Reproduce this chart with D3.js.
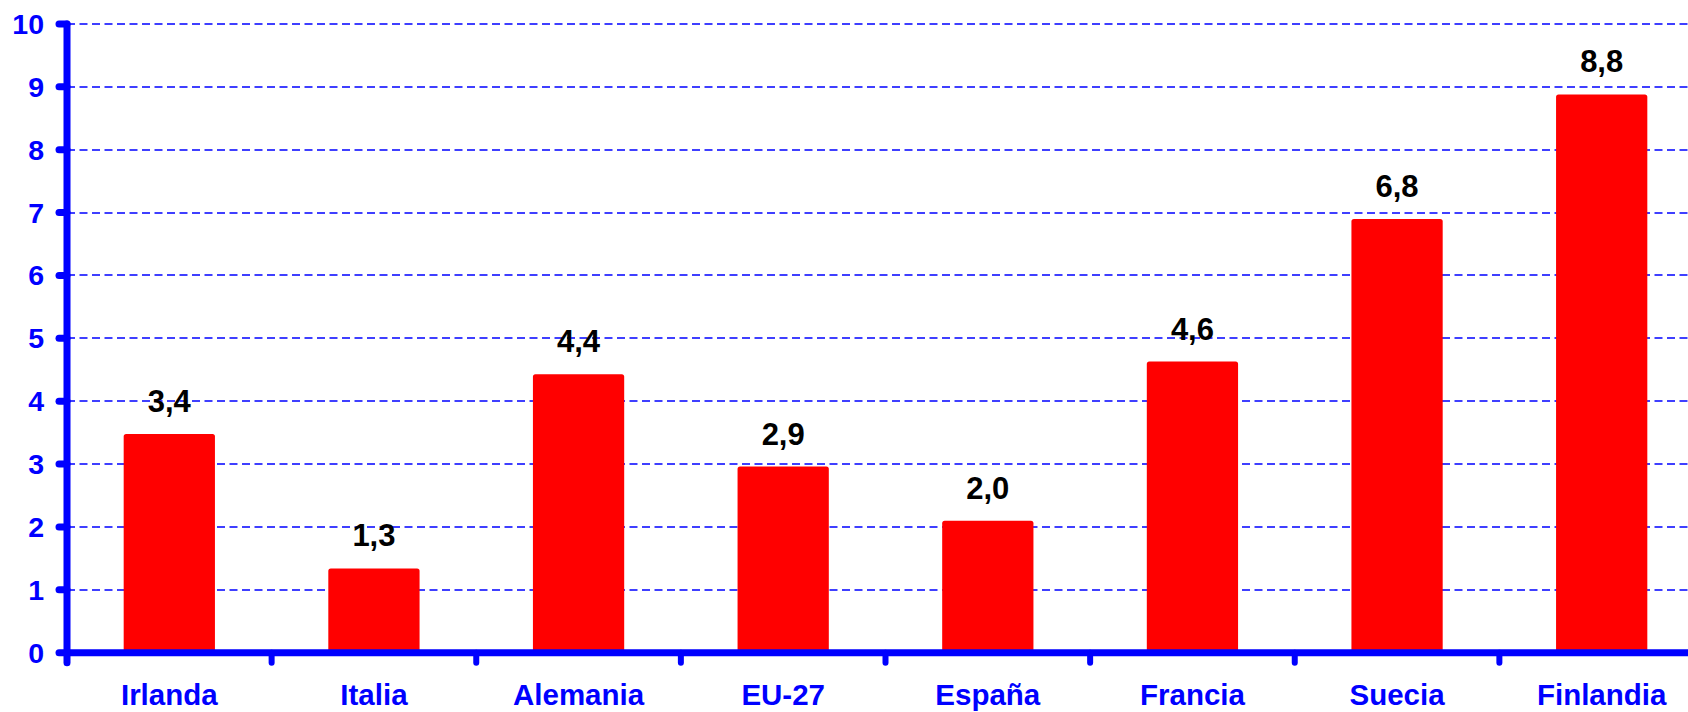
<!DOCTYPE html>
<html>
<head>
<meta charset="utf-8">
<script src="https://cdn.jsdelivr.net/npm/d3@7"></script>
<style>
    html, body { margin: 0; padding: 0; background: #fff; }
    svg { display: block; font-family: "Liberation Sans", Arial, sans-serif; font-weight: bold; }
</style>
</head>
<body>
<div id="chart"></div>
<script>
// countries, in the order shown
var categories = ["Irlanda", "Italia", "Alemania", "EU-27", "España", "Francia", "Suecia", "Finlandia"];
// bar heights as drawn
var values = [3.48, 1.34, 4.43, 2.96, 2.10, 4.63, 6.90, 8.88];
// value labels printed above the bars
var valueLabels = ["3,4", "1,3", "4,4", "2,9", "2,0", "4,6", "6,8", "8,8"];
var yTicks = [0, 1, 2, 3, 4, 5, 6, 7, 8, 9, 10];

var WIDTH = 1688, HEIGHT = 712;
var BLUE = "#0000ff";

var svg = d3.select("#chart").append("svg")
    .attr("width", WIDTH)
    .attr("height", HEIGHT);

var x = d3.scaleBand().domain(categories).range([67, 1704]);
var y = d3.scaleLinear().domain([0, 10]).range([652.7, 24]);
var barWidth = x.bandwidth() * 0.446;

// dashed gridlines
svg.append("g").selectAll("line")
    .data(yTicks.filter(function(t) { return t > 0; }))
    .enter().append("line")
    .attr("x1", x.range()[0])
    .attr("x2", WIDTH)
    .attr("y1", function(t) { return Math.round(y(t)); })
    .attr("y2", function(t) { return Math.round(y(t)); })
    .attr("stroke", BLUE)
    .attr("stroke-width", 1.6)
    .attr("stroke-dasharray", "8,4.5");

// bars
svg.append("g").selectAll("rect")
    .data(values)
    .enter().append("rect")
    .attr("x", function(d, i) { return x(categories[i]) + x.bandwidth() / 2 - barWidth / 2; })
    .attr("y", function(d) { return y(d); })
    .attr("width", barWidth)
    .attr("height", function(d) { return y(0) - y(d); })
    .attr("rx", 2.5)
    .attr("fill", "#ff0000");

// value labels
svg.append("g").selectAll("text")
    .data(valueLabels)
    .enter().append("text")
    .attr("x", function(d, i) { return x(categories[i]) + x.bandwidth() / 2; })
    .attr("y", function(d, i) { return y(values[i]) - 22; })
    .attr("text-anchor", "middle")
    .attr("font-size", 31)
    .attr("fill", "#000")
    .text(function(d) { return d; });

// y axis
var yAxis = svg.append("g");
yAxis.append("line")
    .attr("x1", x.range()[0]).attr("x2", x.range()[0])
    .attr("y1", y(10)).attr("y2", y(0) + 10)
    .attr("stroke", BLUE).attr("stroke-width", 7).attr("stroke-linecap", "round");
yAxis.selectAll("line.tick")
    .data(yTicks)
    .enter().append("line")
    .attr("class", "tick")
    .attr("x1", x.range()[0] - 8).attr("x2", x.range()[0])
    .attr("y1", function(t) { return y(t); })
    .attr("y2", function(t) { return y(t); })
    .attr("stroke", BLUE).attr("stroke-width", 7).attr("stroke-linecap", "round");
yAxis.selectAll("text")
    .data(yTicks)
    .enter().append("text")
    .attr("x", 44)
    .attr("y", function(t) { return y(t) + 10; })
    .attr("text-anchor", "end")
    .attr("font-size", 28.5)
    .attr("fill", BLUE)
    .text(function(t) { return t; });

// x axis
var xAxis = svg.append("g");
xAxis.append("line")
    .attr("x1", x.range()[0]).attr("x2", WIDTH + 10)
    .attr("y1", y(0)).attr("y2", y(0))
    .attr("stroke", BLUE).attr("stroke-width", 7);
xAxis.selectAll("line.tick")
    .data(categories.slice(1))
    .enter().append("line")
    .attr("class", "tick")
    .attr("x1", function(c) { return x(c); })
    .attr("x2", function(c) { return x(c); })
    .attr("y1", y(0)).attr("y2", y(0) + 10)
    .attr("stroke", BLUE).attr("stroke-width", 6).attr("stroke-linecap", "round");
xAxis.selectAll("text")
    .data(categories)
    .enter().append("text")
    .attr("x", function(c) { return x(c) + x.bandwidth() / 2; })
    .attr("y", 705)
    .attr("text-anchor", "middle")
    .attr("font-size", 29.5)
    .attr("fill", BLUE)
    .text(function(c) { return c; });
</script>
</body>
</html>
